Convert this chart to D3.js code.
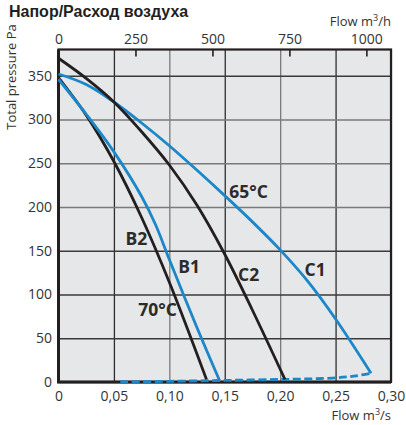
<!DOCTYPE html>
<html>
<head>
<meta charset="utf-8">
<script src="https://cdn.jsdelivr.net/npm/d3@7"></script>
<style>
  body { margin: 0; background: #fff; }
</style>
</head>
<body>
<svg id="chart"></svg>
<script>
// curve data: flow in m3/s, total pressure in Pa
let flowC1 = [0, 0.025, 0.05, 0.075, 0.10, 0.125, 0.15, 0.175, 0.20, 0.225, 0.25, 0.282];
let pressC1 = [352, 340, 320, 296, 270, 242, 213, 183, 151, 115, 72, 10];

let flowC2 = [0, 0.025, 0.05, 0.075, 0.10, 0.125, 0.15, 0.175, 0.2043];
let pressC2 = [370, 347, 320, 286, 248, 202, 146, 82, 3];

let flowB2 = [0, 0.025, 0.05, 0.075, 0.10, 0.1335];
let pressB2 = [348, 305, 252, 188, 114, 3];

let flowB1 = [0, 0.025, 0.05, 0.075, 0.0875, 0.10, 0.125, 0.1452];
let pressB1 = [346, 306, 263, 212, 180, 140, 62, 2];

// dashed system line along the bottom
let flowSys = [0.0557, 0.10, 0.15, 0.204, 0.247, 0.268, 0.282];
let pressSys = [0, 0.8, 1.8, 3, 4.5, 7, 10];

let xTicks = [0, 0.05, 0.10, 0.15, 0.20, 0.25, 0.30];
let yTicks = [0, 50, 100, 150, 200, 250, 300, 350];
let topTicks = [0, 250, 500, 750, 1000];

// curve labels: [text, flow, pressure]
let curveLabels = [
  ["65°C", 0.154, 210],
  ["B2", 0.0605, 157],
  ["B1", 0.108, 125],
  ["C2", 0.162, 116],
  ["C1", 0.222, 121],
  ["70°C", 0.072, 75]
];

let w = 406, h = 425;
let pLeft = 58.5, pRight = 391, pTop = 49.5, pBottom = 382;

let blue = "#1b87c9";
let black = "#231f20";
let sans = "'Open Sans', sans-serif";

let svg = d3.select("#chart").attr("width", w).attr("height", h);

let x = d3.scaleLinear().domain([0, 0.30]).range([pLeft, pRight]);
let y = d3.scaleLinear().domain([0, 380]).range([pBottom, pTop]);
// m3/h on top, same positions
let x2 = d3.scaleLinear().domain([0, 0.30 * 3600]).range([pLeft, pRight]);

// plot background
svg.append("rect")
  .attr("x", pLeft).attr("y", pTop)
  .attr("width", pRight - pLeft).attr("height", pBottom - pTop)
  .attr("fill", "#e6e7e9");

// GRID
let vGrid = svg.append("g")
  .attr("transform", `translate(0, ${pBottom})`)
  .call(d3.axisBottom(x).tickValues(xTicks).tickSize(-(pBottom - pTop)).tickFormat(""));
vGrid.select(".domain").remove();
vGrid.selectAll(".tick line")
  .attr("stroke", (d, i) => i % 2 === 1 ? "#2e2e2e" : "#7a7a7a")
  .attr("stroke-width", 1.3);

let hGrid = svg.append("g")
  .attr("transform", `translate(${pLeft}, 0)`)
  .call(d3.axisLeft(y).tickValues(yTicks).tickSize(-(pRight - pLeft)).tickFormat(""));
hGrid.select(".domain").remove();
hGrid.selectAll(".tick line")
  .attr("stroke", (d) => (d >= 200 && d <= 300) ? "#7a7a7a" : "#3a3a3a")
  .attr("stroke-width", 1.3);

// frame
svg.append("rect")
  .attr("x", pLeft).attr("y", pTop)
  .attr("width", pRight - pLeft).attr("height", pBottom - pTop)
  .attr("fill", "none")
  .attr("stroke", black)
  .attr("stroke-width", 2.2);
svg.append("path")
  .attr("d", `M${pLeft},${pTop} V${pBottom} H${pRight}`)
  .attr("fill", "none")
  .attr("stroke", black)
  .attr("stroke-width", 3);

// AXES labels
let fmtComma = (d) => d === 0 ? "0" : d.toFixed(2).replace(".", ",");

let xAxis = svg.append("g")
  .attr("transform", `translate(0, ${pBottom})`)
  .call(d3.axisBottom(x).tickValues(xTicks).tickSize(0).tickPadding(9).tickFormat(fmtComma));

let yAxis = svg.append("g")
  .attr("transform", `translate(${pLeft}, 0)`)
  .call(d3.axisLeft(y).tickValues(yTicks).tickSize(0).tickPadding(6.5));

let topAxis = svg.append("g")
  .attr("transform", `translate(0, ${pTop})`)
  .call(d3.axisTop(x2).tickValues(topTicks).tickSize(-7).tickPadding(6).tickFormat(d3.format("d")));
topAxis.selectAll(".tick line").attr("stroke", black).attr("stroke-width", 1.6);

[xAxis, yAxis, topAxis].forEach((g) => {
  g.select(".domain").remove();
  g.selectAll("text")
    .attr("font-family", sans)
    .attr("font-size", 14)
    .attr("fill", "#333");
});

// CURVES
let line = d3.line()
  .x((d) => x(d[0]))
  .y((d) => y(d[1]))
  .curve(d3.curveCatmullRom.alpha(0.5));

let zip = (a, b) => a.map((v, i) => [v, b[i]]);

let curves = [
  { data: zip(flowSys, pressSys), color: blue, dash: "8,3.5" },
  { data: zip(flowC1, pressC1), color: blue },
  { data: zip(flowC2, pressC2), color: black },
  { data: zip(flowB2, pressB2), color: black },
  { data: zip(flowB1, pressB1), color: blue }
];

svg.selectAll("path.curve")
  .data(curves)
  .enter()
  .append("path")
  .attr("class", "curve")
  .attr("d", (d) => line(d.data))
  .attr("fill", "none")
  .attr("stroke", (d) => d.color)
  .attr("stroke-width", 2.8)
  .attr("stroke-dasharray", (d) => d.dash || null);

svg.selectAll("text.clabel")
  .data(curveLabels)
  .enter()
  .append("text")
  .attr("class", "clabel")
  .attr("x", (d) => x(d[1]))
  .attr("y", (d) => y(d[2]))
  .attr("font-family", sans)
  .attr("font-size", 17.5)
  .attr("font-weight", "bold")
  .attr("fill", "#2b2b2b")
  .text((d) => d[0]);

// TITLES
svg.append("text")
  .attr("x", 9).attr("y", 17)
  .attr("font-family", "'Liberation Sans', Arial, sans-serif")
  .attr("font-size", 16)
  .attr("font-weight", "bold")
  .attr("fill", "#231f20")
  .text("Напор/Расход воздуха");

let topTitle = svg.append("text")
  .attr("x", 391).attr("y", 26)
  .attr("text-anchor", "end")
  .attr("font-family", sans)
  .attr("font-size", 13)
  .attr("fill", "#333")
  .text("Flow m");
topTitle.append("tspan").attr("dy", -5).attr("font-size", 9).text("3");
topTitle.append("tspan").attr("dy", 5).text("/h");

let bottomTitle = svg.append("text")
  .attr("x", 391).attr("y", 420)
  .attr("text-anchor", "end")
  .attr("font-family", sans)
  .attr("font-size", 13)
  .attr("fill", "#333")
  .text("Flow m");
bottomTitle.append("tspan").attr("dy", -5).attr("font-size", 9).text("3");
bottomTitle.append("tspan").attr("dy", 5).text("/s");

svg.append("text")
  .attr("transform", "translate(16, 77) rotate(-90)")
  .attr("text-anchor", "middle")
  .attr("font-family", sans)
  .attr("font-size", 13)
  .attr("fill", "#333")
  .text("Total pressure Pa");
</script>
</body>
</html>
